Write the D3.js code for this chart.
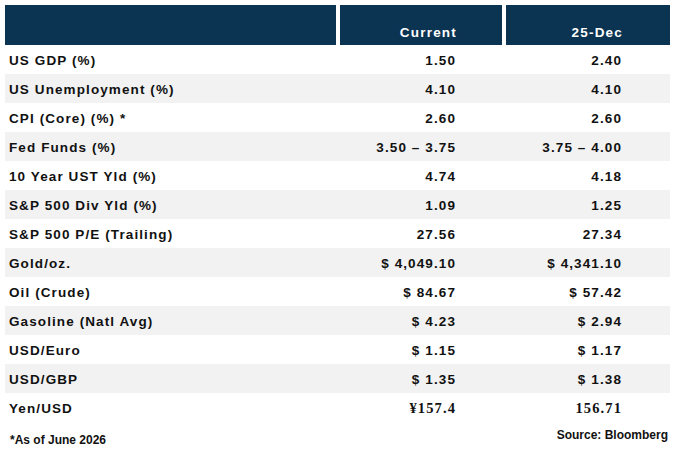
<!DOCTYPE html>
<html><head><meta charset="utf-8">
<script src="https://cdn.jsdelivr.net/npm/d3@7"></script>
<style>body{margin:0;background:#fff}</style>
</head><body>
<svg id="chart" width="674" height="451"></svg>
<script>
// Table data
var columns = ["Current", "25-Dec"];
var labels = ["US GDP (%)", "US Unemployment (%)", "CPI (Core) (%) *", "Fed Funds (%)",
  "10 Year UST Yld (%)", "S&P 500 Div Yld (%)", "S&P 500 P/E (Trailing)", "Gold/oz.",
  "Oil (Crude)", "Gasoline (Natl Avg)", "USD/Euro", "USD/GBP", "Yen/USD"];
var current = ["1.50", "4.10", "2.60", "3.50 \u2013 3.75", "4.74", "1.09", "27.56",
  "$ 4,049.10", "$ 84.67", "$ 4.23", "$ 1.15", "$ 1.35", "\u00a5157.4"];
var dec25 = ["2.40", "4.10", "2.60", "3.75 \u2013 4.00", "4.18", "1.25", "27.34",
  "$ 4,341.10", "$ 57.42", "$ 2.94", "$ 1.17", "$ 1.38", "156.71"];
var footnote = "*As of June 2026";
var source = "Source: Bloomberg";

var svg = d3.select("#chart");
var navy = "#0b3352";
var font = "'Liberation Sans', Arial, sans-serif";

var y = d3.scaleBand().domain(d3.range(labels.length)).range([45, 422]);
var colX = [[5, 336], [340, 502], [506, 670]];

// header
colX.forEach(function(c) {
  svg.append("rect").attr("x", c[0]).attr("y", 5).attr("width", c[1] - c[0]).attr("height", 40).attr("fill", navy);
});
columns.forEach(function(name, i) {
  svg.append("text").attr("x", i === 0 ? 457 : 623).attr("y", 37).attr("text-anchor", "end")
    .attr("fill", "#fff").attr("font-family", font).attr("font-weight", "bold")
    .attr("font-size", 13.5).attr("letter-spacing", 1.2).text(name);
});

var rows = svg.selectAll("g.row").data(labels).enter().append("g").attr("class", "row");
rows.append("rect").attr("x", 5).attr("width", 665).attr("y", function(d, i) { return y(i); })
  .attr("height", y.bandwidth()).attr("fill", function(d, i) { return i % 2 ? "#f2f2f2" : "#fff"; });

function cell(sel, accessor, x, anchor) {
  sel.append("text").attr("x", x).attr("y", function(d, i) { return y(i) + y.bandwidth() / 2 + 5; })
    .attr("text-anchor", anchor).attr("fill", "#111")
    .attr("font-family", function(d, i) { return i === labels.length - 1 && x > 300 ? "'Liberation Serif', 'Times New Roman', serif" : font; })
    .attr("font-weight", "bold")
    .attr("font-size", function(d, i) { return i === labels.length - 1 && x > 300 ? 14.5 : 13.5; })
    .attr("letter-spacing", 1.1)
    .text(accessor);
}
cell(rows, function(d) { return d; }, 9, "start");
cell(rows, function(d, i) { return current[i]; }, 456, "end");
cell(rows, function(d, i) { return dec25[i]; }, 622, "end");

svg.append("text").attr("x", 10).attr("y", 444).attr("font-family", font).attr("font-weight", "bold")
  .attr("font-size", 12).attr("fill", "#111").text(footnote);
svg.append("text").attr("x", 668).attr("y", 439).attr("text-anchor", "end").attr("font-family", font)
  .attr("font-weight", "bold").attr("font-size", 12).attr("fill", "#111").text(source);
</script>
</body></html>
